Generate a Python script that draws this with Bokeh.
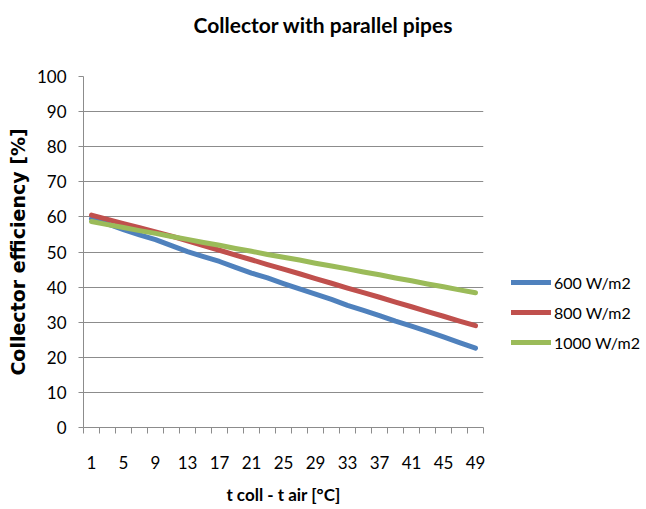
from bokeh.plotting import figure
from bokeh.models import Range1d, FixedTicker, Legend, LegendItem, Title
from bokeh.embed import file_html
from bokeh.resources import INLINE

# Data (x = t coll - t air [°C], categories 1,3,...,49)
x_vals = list(range(1, 50, 2))
x_tick_labels = list(range(1, 50, 4))
y_ticks = list(range(0, 101, 10))

eff_600 = [59.5, 58.0, 56.4, 54.9, 53.5, 51.8, 50.1, 48.7, 47.3, 45.6, 44.0, 42.6, 41.0,
           39.5, 38.0, 36.5, 34.8, 33.4, 31.9, 30.3, 28.9, 27.4, 25.8, 24.2, 22.6]
eff_800 = [60.5, 59.3, 58.1, 56.9, 55.7, 54.5, 53.2, 51.8, 50.5, 49.1, 47.8, 46.4, 45.1,
           43.8, 42.4, 41.1, 39.7, 38.4, 37.1, 35.7, 34.4, 33.0, 31.7, 30.3, 29.0]
eff_1000 = [58.7, 57.8, 57.0, 56.1, 55.3, 54.4, 53.6, 52.7, 51.9, 51.0, 50.2, 49.3, 48.5,
            47.7, 46.8, 46.0, 45.2, 44.3, 43.5, 42.6, 41.8, 40.9, 40.1, 39.2, 38.4]
series_names = ["600 W/m2", "800 W/m2", "1000 W/m2"]
series_colors = ["#4F81BD", "#C0504D", "#9BBB59"]

p = figure(frame_width=400, frame_height=351, x_range=Range1d(0, 50), y_range=Range1d(0, 100),
           output_backend="svg", toolbar_location=None,
           min_border_left=83, min_border_right=163, min_border_top=76, min_border_bottom=82,
           title="Collector with parallel pipes")
p.outline_line_color = None
p.background_fill_color = "white"
p.border_fill_color = "white"

p.title.align = "left"
p.title.offset = 110
p.title.text_font = "Lato"
p.title.text_font_style = "bold"
p.title.text_font_size = "21px"
p.title.text_color = "#000000"
p.title.standoff = 10

# empty spacer title to lift the main title
spacer = Title(text=" ", text_font_size="30px", standoff=0)
p.add_layout(spacer, "above")

p.xgrid.grid_line_color = None
p.ygrid.grid_line_color = "#8c8c8c"
p.ygrid.grid_line_width = 1

gray = "#8c8c8c"
# x axis
p.xaxis.ticker = FixedTicker(ticks=x_tick_labels, minor_ticks=list(range(0, 51, 2)))
p.xaxis.major_tick_in = 0
p.xaxis.major_tick_out = 0
p.xaxis.minor_tick_in = 0
p.xaxis.minor_tick_out = 6
p.xaxis.minor_tick_line_color = gray
p.xaxis.axis_line_color = gray
p.xaxis.major_label_standoff = 22
p.xaxis.major_label_text_font = "Lato"
p.xaxis.major_label_text_font_size = "17px"
p.xaxis.major_label_text_color = "#000000"
p.xaxis.axis_label = "t coll - t air [°C]"
p.xaxis.axis_label_text_font = "Lato"
p.xaxis.axis_label_text_font_style = "bold"
p.xaxis.axis_label_text_font_size = "17px"
p.xaxis.axis_label_text_color = "#000000"
p.xaxis.axis_label_standoff = 12

# y axis
p.yaxis.ticker = FixedTicker(ticks=y_ticks, minor_ticks=[])
p.yaxis.major_tick_in = 0
p.yaxis.major_tick_out = 5
p.yaxis.major_tick_line_color = gray
p.yaxis.axis_line_color = gray
p.yaxis.major_label_standoff = 12
p.yaxis.major_label_text_font = "Lato"
p.yaxis.major_label_text_font_size = "17px"
p.yaxis.major_label_text_color = "#000000"
p.yaxis.axis_label = "Collector efficiency [%]"
p.yaxis.axis_label_text_font = "DejaVu Sans"
p.yaxis.axis_label_text_font_style = "bold"
p.yaxis.axis_label_text_font_size = "19px"
p.yaxis.axis_label_text_color = "#000000"
p.yaxis.axis_label_standoff = 5

items = []
for name, ys, col in zip(series_names, [eff_600, eff_800, eff_1000], series_colors):
    r = p.line(x_vals, ys, line_width=5, line_color=col, line_join="round", line_cap="round")
    items.append(LegendItem(label=name, renderers=[r]))

legend = Legend(items=items, location=(28, 75))
legend.border_line_color = None
legend.background_fill_alpha = 0
legend.padding = 0
legend.margin = 0
legend.glyph_width = 40
legend.glyph_height = 20
legend.label_height = 20
legend.spacing = 10
legend.label_standoff = 3
legend.label_text_font = "Lato"
legend.label_text_font_size = "16px"
legend.label_text_color = "#000000"
p.add_layout(legend, "right")

open("out.html", "w").write(file_html(p, INLINE))
